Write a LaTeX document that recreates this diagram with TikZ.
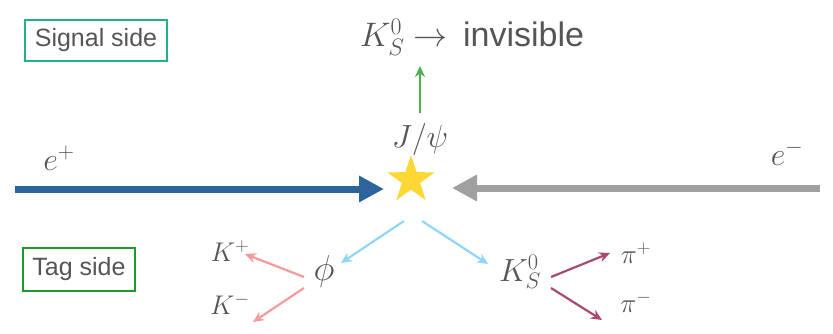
\documentclass[tikz,border=0pt]{standalone}
\usepackage{fix-cm}
\usepackage{fontspec}
\setsansfont{Liberation Sans}
\usetikzlibrary{arrows.meta,shapes.geometric}
\definecolor{txt}{HTML}{555555}
\definecolor{sigc}{HTML}{22B08C}
\definecolor{tagc}{HTML}{1E9A2A}
\definecolor{beamblue}{HTML}{2D649C}
\definecolor{beamgray}{HTML}{A0A0A0}
\definecolor{upgreen}{HTML}{4CAF50}
\definecolor{ltblue}{HTML}{8FD6F6}
\definecolor{pinkc}{HTML}{F49A98}
\definecolor{magc}{HTML}{A84B74}
\definecolor{stary}{HTML}{FDD835}
\tikzset{
  sidebox/.style={draw, line width=2pt, inner sep=0pt, text=txt, font=\sffamily\fontsize{25}{28}\selectfont},
  lbl/.style={inner sep=0pt, text=txt},
  thin arrow/.style={line width=2.2pt, -{Stealth[length=11pt,width=10pt]}},
  beam/.style={line width=7pt, -{Triangle[length=25pt,width=25pt]}}
}
\begin{document}
\begin{tikzpicture}[x=1pt,y=-1pt]
\useasboundingbox (0,0) rectangle (833,333);
% side boxes
\node[sidebox, draw=sigc, minimum width=142pt, minimum height=41pt] (sig) at (96,40.5) {Signal side};
\node[sidebox, draw=tagc, minimum width=112pt, minimum height=43pt] (tag) at (79,269.5) {Tag side};
% top decay
\node[lbl, font=\fontsize{34}{40}\selectfont] (inv) at (472,37) {$K_S^0\rightarrow{}$\,\sffamily invisible};
% star
\node[star, star points=5, star point ratio=2.6, minimum size=50pt, fill=stary, inner sep=0pt] (jpsi) at (411,180) {};
\node[lbl, font=\fontsize{32}{36}\selectfont] (jpsilbl) at (420,139) {$J/\psi$};
\coordinate (gs) at (420,113);
\coordinate (ge) at (420,66);
\draw[thin arrow, upgreen] (gs) -- (ge);
% beams
\coordinate (bstart) at (15,189);
\coordinate (btip) at (384,189);
\coordinate (gstart) at (820,188);
\coordinate (gtip) at (452,188);
\draw[beam, beamblue] (bstart) -- (btip);
\draw[beam, beamgray] (gstart) -- (gtip);
\node[lbl, font=\fontsize{32}{36}\selectfont] (ep) at (59,158) {$e^+$};
\node[lbl, font=\fontsize{32}{36}\selectfont] (em) at (787,153) {$e^-$};
% tag side
\node[lbl, font=\fontsize{36}{40}\selectfont] (phi) at (324,271) {$\phi$};
\node[lbl, font=\fontsize{32}{36}\selectfont] (ks) at (520,272) {$K_S^0$};
\coordinate (la) at (404,221);
\coordinate (ra) at (422,221);
\coordinate (lt) at (341,263);
\coordinate (rt) at (488,264);
\draw[thin arrow, ltblue] (la) -- (lt);
\draw[thin arrow, ltblue] (ra) -- (rt);
\node[lbl, font=\fontsize{27}{30}\selectfont] (kp) at (230,251) {$K^+$};
\node[lbl, font=\fontsize{27}{30}\selectfont] (km) at (230,304) {$K^-$};
\coordinate (p1) at (304,277);
\coordinate (p2) at (304,288);
\coordinate (kpt) at (245,254);
\coordinate (kmt) at (253,322);
\draw[thin arrow, pinkc] (p1) -- (kpt);
\draw[thin arrow, pinkc] (p2) -- (kmt);
\node[lbl, font=\fontsize{27}{30}\selectfont] (pp) at (636,253) {$\pi^+$};
\node[lbl, font=\fontsize{27}{30}\selectfont] (pm) at (636,302) {$\pi^-$};
\coordinate (m1) at (551,277);
\coordinate (m2) at (551,288);
\coordinate (ppt) at (610,253);
\coordinate (pmt) at (602,320);
\draw[thin arrow, magc] (m1) -- (ppt);
\draw[thin arrow, magc] (m2) -- (pmt);
\end{tikzpicture}
\end{document}
